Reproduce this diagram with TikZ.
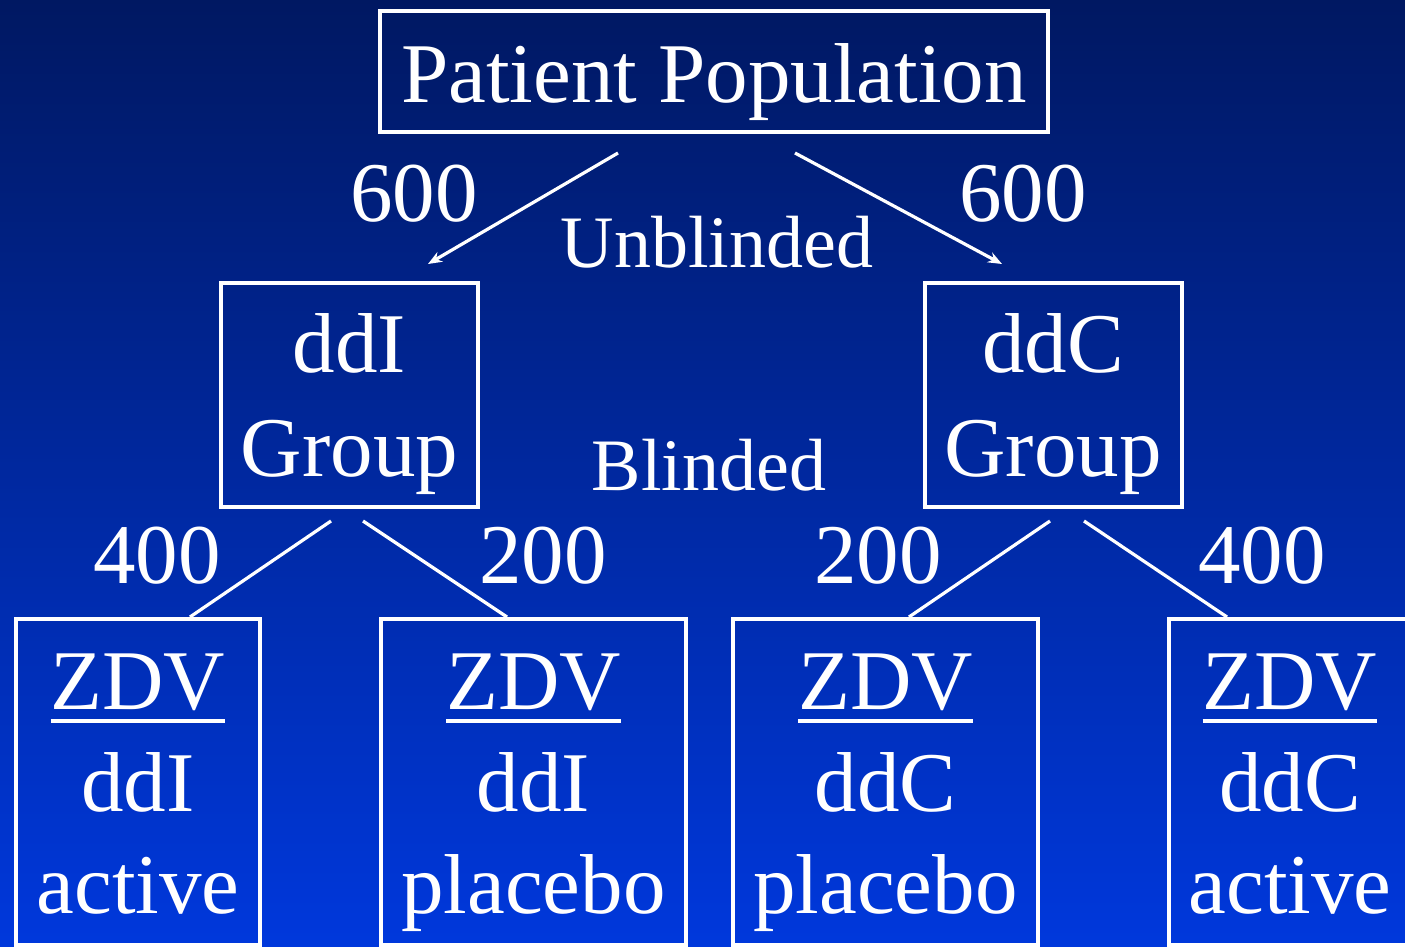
\documentclass[tikz,border=0pt]{standalone}
\usepackage{fontspec}
\setmainfont{Liberation Serif}
\usetikzlibrary{arrows.meta}
\definecolor{slidetop}{RGB}{0,24,98}
\definecolor{slidebottom}{RGB}{0,56,220}
\newcommand{\drugline}[1]{\setbox0\hbox{#1}\rlap{\rule[-7pt]{\wd0}{2pt}}\box0}
\tikzset{
  box/.style = {draw = white, line width = 2pt, inner sep = 0pt, align = center, text = white},
  pairbox/.style = {box, font = \fontsize{42.5}{52}\selectfont, minimum height = 112pt, text height = 81pt, text depth = 0pt},
  armbox/.style = {box, font = \fontsize{42.5}{51}\selectfont, minimum height = 163pt, text height = 131pt, text depth = 0pt},
  count/.style = {anchor = base, text = white, inner sep = 0pt, font = \fontsize{42.5}{51}\selectfont},
  blinding/.style = {anchor = base, text = white, inner sep = 0pt, font = \fontsize{37}{44}\selectfont},
  split/.style = {draw = white, line width = 1.6pt},
  arm/.style = {split, -{Stealth[length = 7pt, width = 5.5pt]}}
}
\begin{document}
\begin{tikzpicture}[x = 0.5pt, y = -0.5pt]
\shade[top color = slidetop, bottom color = slidebottom] (0,0) rectangle (1405,947);
\useasboundingbox (0,0) rectangle (1405,947);
\node[box, font = \fontsize{42.5}{51}\selectfont, minimum width = 334pt, minimum height = 60.5pt, text height = 31.5pt, text depth = 0pt] (pop) at (714,71.5) {Patient Population};
\node[pairbox, minimum width = 128.5pt] (ddi) at (349.5,395) {ddI\\Group};
\node[pairbox, minimum width = 128.5pt] (ddc) at (1053,395) {ddC\\Group};
\node[armbox, minimum width = 122pt] (ddiact) at (138,782) {\drugline{ZDV}\\ddI\\active};
\node[armbox, minimum width = 152.5pt] (ddipla) at (533.5,782) {\drugline{ZDV}\\ddI\\placebo};
\node[armbox, minimum width = 152.5pt] (ddcpla) at (885.5,782) {\drugline{ZDV}\\ddC\\placebo};
\node[armbox, minimum width = 121pt] (ddcact) at (1290,782) {\drugline{ZDV}\\ddC\\active};
\node[count] (popddi) at (414,221) {600};
\node[count] (popddc) at (1023,221) {600};
\node[blinding] (unblinded) at (717,268) {Unblinded};
\node[blinding] (blinded) at (709,490) {Blinded};
\node[count] (nddiact) at (157,583) {400};
\node[count] (nddipla) at (543,583) {200};
\node[count] (nddcpla) at (878,583) {200};
\node[count] (nddcact) at (1262,583) {400};
\draw[arm] ([shift = {(-96,19)}]pop.south) -- ([shift = {(78.5,-17)}]ddi.north);
\draw[arm] ([shift = {(81,19)}]pop.south) -- ([shift = {(-51,-17)}]ddc.north);
\draw[split] ([shift = {(-18.5,12)}]ddi.south) -- ([xshift = 26pt]ddiact.north);
\draw[split] ([shift = {(13.5,12)}]ddi.south) -- ([xshift = -13.25pt]ddipla.north);
\draw[split] ([shift = {(-3,12)}]ddc.south) -- ([xshift = 11.75pt]ddcpla.north);
\draw[split] ([shift = {(31,12)}]ddc.south) -- ([xshift = -31.5pt]ddcact.north);
\end{tikzpicture}
\end{document}
